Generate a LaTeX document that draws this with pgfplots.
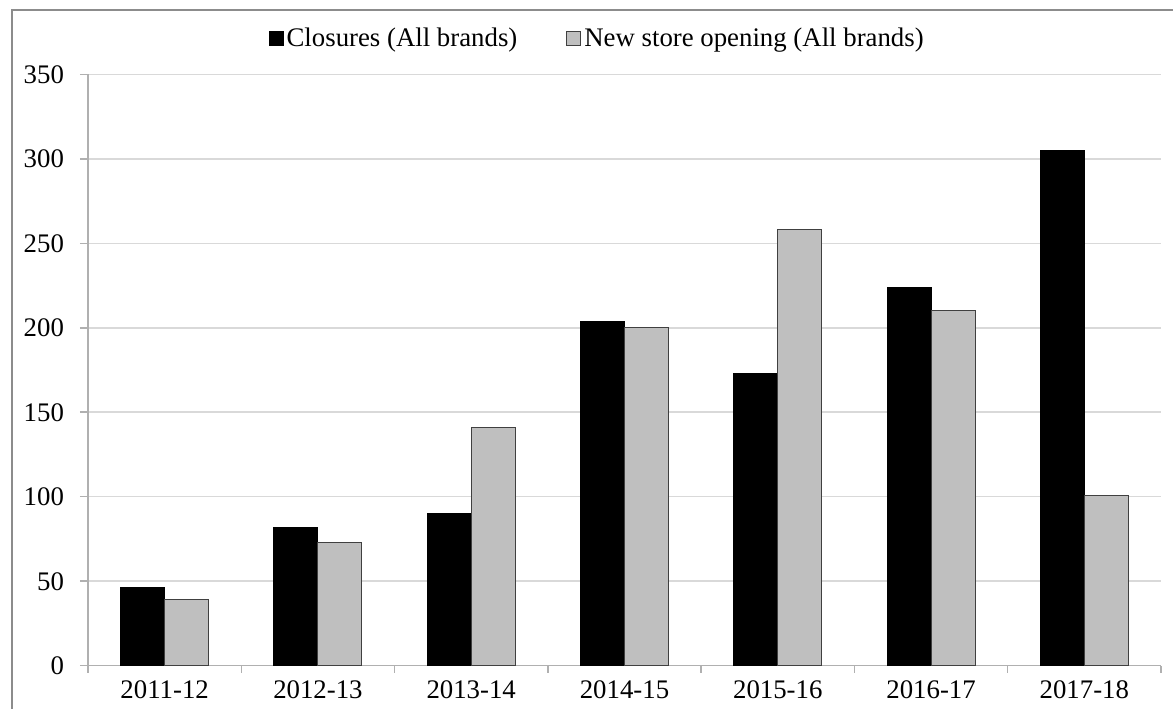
\documentclass[border=0pt]{standalone}
\usepackage{fontspec}
\setmainfont{Liberation Serif}
\usepackage{pgfplots}
\pgfplotsset{compat=1.18}

\definecolor{barblack}{HTML}{000000}
\definecolor{bargray}{HTML}{BFBFBF}
\definecolor{baredge}{HTML}{404040}
\definecolor{gridc}{HTML}{D9D9D9}
\definecolor{axisc}{HTML}{B0B0B0}
\definecolor{framec}{HTML}{8C8C8C}

% closures and openings per year
\pgfplotstableread{
x closures openings
0 46  39
1 82  73
2 90  141
3 204 200
4 173 258
5 224 210
6 305 101
}\stores

\begin{document}
\begin{tikzpicture}[font=\fontsize{13.4}{16}\selectfont]
\useasboundingbox (-44pt,-21.15pt) rectangle (542.5pt,332.85pt);
\draw[framec, line width=1.2pt] (-38pt,-40pt) -- (-38pt,327.85pt) -- (600pt,327.85pt);
\begin{axis}[
    at={(0,0)}, anchor=south west,
    scale only axis,
    width=536.5pt, height=295.7pt,
    ybar=0pt, bar width=22pt,
    xmin=-0.5, xmax=6.5,
    ymin=0, ymax=350,
    ytick={0,50,...,350},
    xtick={0,...,6},
    xticklabels={2011-12,2012-13,2013-14,2014-15,2015-16,2016-17,2017-18},
    minor xtick={-0.5,0.5,...,6.5},
    tick align=outside,
    major tick length=4pt,
    minor tick length=3.5pt,
    major x tick style={draw=none},
    every tick/.style={axisc, line width=0.75pt},
    minor x tick style={axisc, line width=0.75pt},
    ymajorgrids,
    grid style={gridc, line width=0.75pt},
    axis x line*=bottom,
    axis y line*=left,
    axis line style={axisc, line width=0.75pt, -},
    /pgf/number format/assume math mode=true,
    yticklabel style={xshift=-4.5pt},
    legend columns=2,
    legend style={draw=none, fill=none, at={(0.475,1.0605)}, anchor=center,
        /tikz/every even column/.append style={column sep=23pt},
        nodes={inner xsep=1.5pt}},
    legend image code/.code={\draw[#1, line width=0.5pt] (0pt,-3.3pt) rectangle (7pt,3.5pt);},
]
\addplot[fill=barblack, draw=barblack, line width=0.5pt] table[x=x, y=closures] {\stores};
\addplot[fill=bargray, draw=baredge, line width=0.5pt] table[x=x, y=openings] {\stores};
\legend{Closures (All brands), New store opening (All brands)}
\end{axis}
\end{tikzpicture}
\end{document}
